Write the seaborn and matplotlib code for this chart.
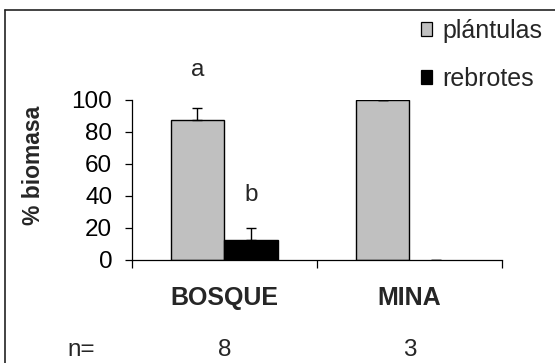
import matplotlib
matplotlib.use("Agg")
import matplotlib.pyplot as plt
from matplotlib.lines import Line2D
from matplotlib.patches import Patch
import seaborn as sns
import pandas as pd

# Biomass share per site and regeneration type
sitios = ["BOSQUE", "MINA"]
tipos = ["plántulas", "rebrotes"]
plantulas = [87.5, 100.0]
rebrotes = [12.5, 0.0]
se_plantulas = [7.3, 0.0]
se_rebrotes = [7.3, 0.0]
n_muestras = [8, 3]
letras_bosque = ["a", "b"]
y_ticks = [0, 20, 40, 60, 80, 100]

colores = {"plántulas": "#C0C0C0", "rebrotes": "#000000"}

df = pd.DataFrame({
    "sitio": sitios * 2,
    "tipo": [tipos[0]] * 2 + [tipos[1]] * 2,
    "biomasa": plantulas + rebrotes,
})

sns.set_style("white")
plt.rcParams["font.family"] = ["Liberation Sans", "DejaVu Sans"]

W, H = 555, 363
fig = plt.figure(figsize=(W / 100, H / 100), dpi=100)
ax = fig.add_axes([131.7 / W, 1 - 260 / H, (502 - 131.7) / W, 160 / H])


def px(x, y):
    """Figure pixel position (origin top-left) to figure fraction."""
    return x / W, 1 - y / H


sns.barplot(data=df, x="sitio", y="biomasa", hue="tipo", order=sitios,
            hue_order=tipos, palette=colores, width=0.58, errorbar=None,
            edgecolor="black", linewidth=1.0, legend=False, ax=ax)

# Zero-height bars are not drawn
for p in ax.patches:
    if p.get_height() == 0:
        p.set_linewidth(0)

# One-sided standard errors above each bar
bw = 0.29
for k, (vals, errs) in enumerate([(plantulas, se_plantulas), (rebrotes, se_rebrotes)]):
    xs = [i + (k - 0.5) * bw for i in range(len(sitios))]
    ax.errorbar(xs, vals, yerr=[[0] * len(errs), errs], fmt="none",
                ecolor="black", elinewidth=1.0, capsize=3.6, capthick=1.0,
                zorder=3)

FS = 17.5

# Significance letters over the BOSQUE bars
ax.text(-0.5 * bw, 119, letras_bosque[0], ha="center", va="center",
        fontsize=FS, clip_on=False)
ax.text(0.5 * bw, 40.6, letras_bosque[1], ha="center", va="center",
        fontsize=FS, clip_on=False)

ax.set_xlim(-0.5, 1.5)
ax.set_ylim(0, 100)
ax.set_yticks(y_ticks)
ax.set_yticklabels([str(t) for t in y_ticks])
ax.set_xticks([-0.5, 0.5, 1.5])
ax.set_xticklabels([])
ax.set_xlabel("")
ax.set_ylabel("")

for s in ["top", "right"]:
    ax.spines[s].set_visible(False)
for s in ["left", "bottom"]:
    ax.spines[s].set_visible(True)
    ax.spines[s].set_color("#000000")
    ax.spines[s].set_linewidth(0.9)

ax.tick_params(axis="y", direction="out", length=5, width=0.9, pad=9,
               labelsize=FS, left=True, colors="black")
ax.tick_params(axis="x", direction="out", length=6, width=0.9, bottom=True,
               colors="black")

# Category labels and sample sizes
for i, s in enumerate(sitios):
    ax.text(i, -24, s, ha="center", va="center", fontsize=18,
            fontweight="bold", clip_on=False)
    ax.text(i, -56, str(n_muestras[i]), ha="center", va="center",
            fontsize=FS, clip_on=False)
fig.text(*px(81, 350), "n=", ha="center", va="center", fontsize=FS)

fig.text(*px(34, 165), "% biomasa", rotation=90, ha="center", va="center",
         fontsize=16.5, fontweight="bold")

# Legend with square keys
handles = [Patch(facecolor=colores[t], edgecolor="black", linewidth=0.9, label=t)
           for t in tipos]
fig.legend(handles=handles, loc="upper left", bbox_to_anchor=px(421, 19),
           frameon=False, fontsize=18, handlelength=0.45, handleheight=0.45,
           handletextpad=0.4, labelspacing=0.95, borderaxespad=0,
           borderpad=0)

# Outer frame of the figure
fig.add_artist(Line2D([5 / W, 5 / W], [0, 1 - 10 / H], color="#222222",
                      linewidth=1.2, transform=fig.transFigure))
fig.add_artist(Line2D([5 / W, 1], [1 - 10 / H, 1 - 10 / H], color="#222222",
                      linewidth=1.2, transform=fig.transFigure))

fig.savefig("out.png", dpi=100)
